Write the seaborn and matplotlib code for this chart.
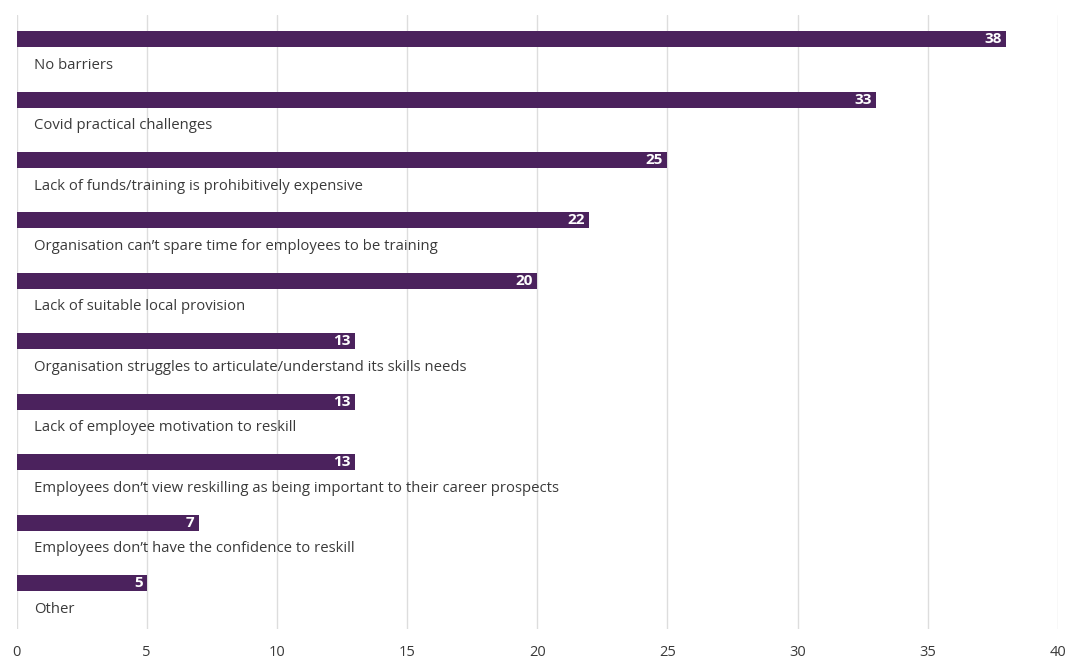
import matplotlib
matplotlib.use("Agg")
import matplotlib.pyplot as plt
import seaborn as sns
import pandas as pd

categories = [
    "No barriers",
    "Covid practical challenges",
    "Lack of funds/training is prohibitively expensive",
    "Organisation can\u2019t spare time for employees to be training",
    "Lack of suitable local provision",
    "Organisation struggles to articulate/understand its skills needs",
    "Lack of employee motivation to reskill",
    "Employees don\u2019t view reskilling as being important to their career prospects",
    "Employees don\u2019t have the confidence to reskill",
    "Other",
]
values = [38, 33, 25, 22, 20, 13, 13, 13, 7, 5]
x_ticks = [0, 5, 10, 15, 20, 25, 30, 35, 40]

BAR = "#4b225d"
TEXT = "#3a3a3a"

sns.set_theme(style="white")
plt.rcParams["font.family"] = ["Open Sans", "DejaVu Sans"]

df = pd.DataFrame({"barrier": categories, "pct": values})

fig = plt.figure(figsize=(10.67, 6.6), dpi=100)
ax = fig.add_axes([16.5 / 1067, 1 - 629 / 660, 1041.5 / 1067, 614 / 660])

sns.barplot(data=df, x="pct", y="barrier", orient="h", color=BAR,
            saturation=1, width=0.265, linewidth=0, ax=ax, zorder=3)

ax.set_xlim(0, 40)
ax.set_ylim(9.76, -0.4)
ax.set_xticks(x_ticks)
ax.set_xticklabels([str(t) for t in x_ticks], fontsize=10.5, color=TEXT)
ax.tick_params(axis="x", length=0, pad=11.5)
ax.set_yticks([])
ax.set_xlabel("")
ax.set_ylabel("")
ax.grid(axis="x", color="#dddddd", linewidth=1, zorder=0)
for s in ax.spines.values():
    s.set_visible(False)

for i, (cat, v) in enumerate(zip(categories, values)):
    ax.annotate(str(v), xy=(v, i), xytext=(-3, 0), textcoords="offset points",
                ha="right", va="center", color="white", fontsize=11,
                fontweight="bold", zorder=4)
    ax.annotate(cat, xy=(0, i), xytext=(12.6, -18.7), textcoords="offset points",
                ha="left", va="center", color=TEXT, fontsize=10.7, zorder=4)

fig.savefig("out.png", dpi=100)
